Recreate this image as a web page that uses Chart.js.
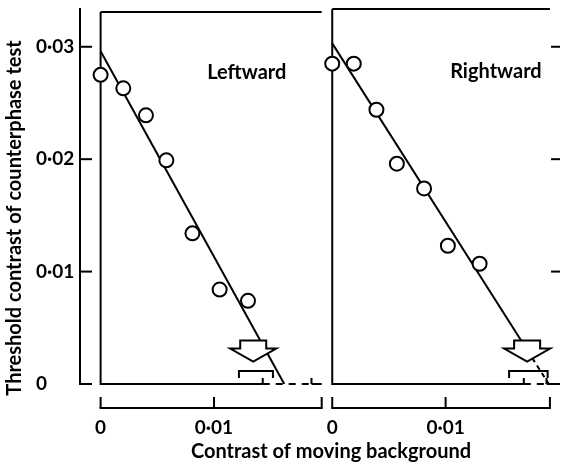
<!DOCTYPE html>
<html>
<head>
<meta charset="utf-8">
<script src="https://cdn.jsdelivr.net/npm/chart.js@4"></script>
<style>
  html, body { margin: 0; padding: 0; background: #fff; overflow: hidden; }
</style>
</head>
<body>
<canvas id="chart" width="569" height="468"></canvas>
<script>
// two panels share one x scale, the right one starts at `offset`
const offset = 0.02043;

const leftX = [0, 0.0020, 0.0040, 0.0058, 0.0081, 0.0105, 0.0130];
const leftY = [0.0275, 0.0263, 0.0239, 0.0199, 0.0134, 0.0084, 0.0074];
const rightX = [0, 0.0019, 0.0039, 0.0057, 0.0081, 0.0102, 0.0130];
const rightY = [0.0285, 0.0285, 0.0244, 0.0196, 0.0174, 0.0123, 0.0107];

// fitted lines: [y intercept, x intercept]
const leftFit = [0.0296, 0.0162];
const rightFit = [0.0303, 0.0191];

const panelNames = ["Leftward", "Rightward"];
const panelEnd = [0.0195, 0.0192];
const arrowX = [0.01346, 0.01719];
const bracketX = [[0.0122, 0.0152], [0.0156, 0.0190]];
const baseSolidEnd = [0.0143, 0.0169];
const baseDashEnd = [0.0186, 0.0189];

const yTicks = [0, 0.01, 0.02, 0.03];
const xTicks = [0, 0.01];

const fmt = v => Math.abs(v) < 1e-9 ? "0" : v.toFixed(2).replace(".", "·");

Chart.defaults.font.family = "Lato";
Chart.defaults.font.size = 19;
Chart.defaults.font.weight = "bold";
Chart.defaults.color = "#000";

const splitY = 0.0030;
const splitX = rightFit[1] * (1 - splitY / rightFit[0]);

const framePlugin = {
    id: "frame",
    beforeDatasetsDraw(chart) {
        const { ctx, chartArea, scales: { x, y } } = chart;
        const px = v => x.getPixelForValue(v);
        const py = v => y.getPixelForValue(v);
        ctx.save();
        ctx.strokeStyle = "#000";
        ctx.lineWidth = 2;
        ctx.lineCap = "butt";

        const seg = (x1, y1, x2, y2, dash) => {
            ctx.setLineDash(dash || []);
            ctx.beginPath();
            ctx.moveTo(x1, y1);
            ctx.lineTo(x2, y2);
            ctx.stroke();
        };

        // ticks on the left axis point inwards
        yTicks.forEach(t => seg(chartArea.left, py(t), chartArea.left + 12, py(t)));
        // ticks of the right axis (cut off at the edge)
        yTicks.filter(t => t > 0).forEach(t => seg(px(offset + 0.0193), py(t), chartArea.right, py(t)));

        // panel frames
        const tops = [py(0.0331), chartArea.top];
        [0, offset].forEach((o, i) => {
            seg(px(o), py(0) + 1, px(o), tops[i]);
            seg(px(o), tops[i], px(o + panelEnd[i]), tops[i]);
            // baseline: solid, dashed, solid
            const b = py(0);
            const a = px(o + baseSolidEnd[i]);
            const d = px(o + baseDashEnd[i]);
            const end = i === 0 ? px(o + panelEnd[i]) : chartArea.right;
            seg(px(o), b, a, b);
            seg(a, b, a, b - 6);
            seg(a, b, d, b, [7, 6]);
            seg(d, b, d, b - 6);
            seg(d, b, end, b);

            // separate x axis below the panels
            const ax = chartArea.bottom + 24;
            seg(px(o) - 1, ax, px(o + panelEnd[i]) + 1, ax);
            xTicks.concat([panelEnd[i]]).forEach(t => seg(px(o + t), ax, px(o + t), ax - 11));
        });
        ctx.restore();
    },
    afterDatasetsDraw(chart) {
        const { ctx, chartArea, scales: { x, y } } = chart;
        const px = v => x.getPixelForValue(v);
        const py = v => y.getPixelForValue(v);
        ctx.save();
        ctx.strokeStyle = "#000";
        ctx.lineWidth = 2;
        ctx.setLineDash([]);

        [0, offset].forEach((o, i) => {
            // hollow arrow
            const cx = px(o + arrowX[i]);
            const tip = py(0.0020);
            ctx.beginPath();
            ctx.moveTo(cx - 13, tip - 21);
            ctx.lineTo(cx + 13, tip - 21);
            ctx.lineTo(cx + 13, tip - 13);
            ctx.lineTo(cx + 23, tip - 13);
            ctx.lineTo(cx, tip);
            ctx.lineTo(cx - 23, tip - 13);
            ctx.lineTo(cx - 13, tip - 13);
            ctx.closePath();
            ctx.fillStyle = "#fff";
            ctx.fill();
            ctx.stroke();

            // bracket
            const bt = py(0.00115);
            ctx.beginPath();
            ctx.moveTo(px(o + bracketX[i][0]), bt + 7);
            ctx.lineTo(px(o + bracketX[i][0]), bt);
            ctx.lineTo(px(o + bracketX[i][1]), bt);
            ctx.lineTo(px(o + bracketX[i][1]), bt + 7);
            ctx.stroke();
        });

        ctx.fillStyle = "#000";
        ctx.font = "bold 20px Lato";
        ctx.textBaseline = "alphabetic";
        ctx.textAlign = "left";
        ctx.fillText(panelNames[0], px(0.0094), 79);
        ctx.fillText(panelNames[1], px(offset + 0.0104), 78);

        // axis titles
        ctx.textAlign = "center";
        ctx.textBaseline = "middle";
        ctx.fillText("Contrast of moving background", 331, 452);
        ctx.translate(15, 218);
        ctx.rotate(-Math.PI / 2);
        ctx.fillText("Threshold contrast of counterphase test", 0, 0);
        ctx.restore();
    }
};

const pts = (xs, ys, o) => xs.map((v, i) => ({ x: v + o, y: ys[i] }));

new Chart(document.getElementById("chart"), {
    type: "scatter",
    data: {
        datasets: [
            {
                data: pts(leftX, leftY, 0),
                pointRadius: 7,
                pointBorderWidth: 2,
                pointBackgroundColor: "#fff",
                pointBorderColor: "#000",
                order: 0,
            },
            {
                data: pts(rightX, rightY, offset),
                pointRadius: 7,
                pointBorderWidth: 2,
                pointBackgroundColor: "#fff",
                pointBorderColor: "#000",
                order: 0,
            },
            {
                data: [{ x: 0, y: leftFit[0] }, { x: leftFit[1], y: 0 }],
                showLine: true,
                pointRadius: 0,
                borderColor: "#000",
                borderWidth: 2,
                order: 1,
            },
            {
                data: [{ x: offset, y: rightFit[0] }, { x: offset + splitX, y: splitY }],
                showLine: true,
                pointRadius: 0,
                borderColor: "#000",
                borderWidth: 2,
                order: 1,
            },
            {
                data: [{ x: offset + splitX, y: splitY }, { x: offset + rightFit[1], y: 0 }],
                showLine: true,
                pointRadius: 0,
                borderColor: "#000",
                borderWidth: 2,
                borderDash: [5, 4],
                order: 1,
            },
        ],
    },
    options: {
        responsive: false,
        animation: false,
        layout: { padding: { top: 7, right: 0, left: 36, bottom: 0 } },
        plugins: {
            legend: { display: false },
            tooltip: { enabled: false },
        },
        scales: {
            x: {
                type: "linear",
                min: -0.001818,
                max: 0.04052,
                grid: { display: false },
                border: { display: false },
                ticks: {
                    padding: 24,
                    autoSkip: false,
                    maxRotation: 0,
                    callback: v => fmt(v >= offset - 1e-6 ? v - offset : v),
                },
                afterBuildTicks: s => {
                    s.ticks = xTicks.concat(xTicks.map(t => t + offset)).map(v => ({ value: v }));
                },
                afterFit: s => {
                    s.height = 84;
                    s.paddingLeft = 0;
                    s.paddingRight = 0;
                },
            },
            y: {
                min: 0,
                max: 0.03336,
                grid: { display: false },
                border: { display: true, color: "#000", width: 2 },
                ticks: { crossAlign: "far", callback: v => fmt(v) },
                afterBuildTicks: s => {
                    s.ticks = yTicks.map(v => ({ value: v }));
                },
                afterFit: s => {
                    s.width = 44;
                    s.paddingTop = 0;
                    s.paddingBottom = 0;
                },
            },
        },
    },
    plugins: [framePlugin],
});
</script>
</body>
</html>
